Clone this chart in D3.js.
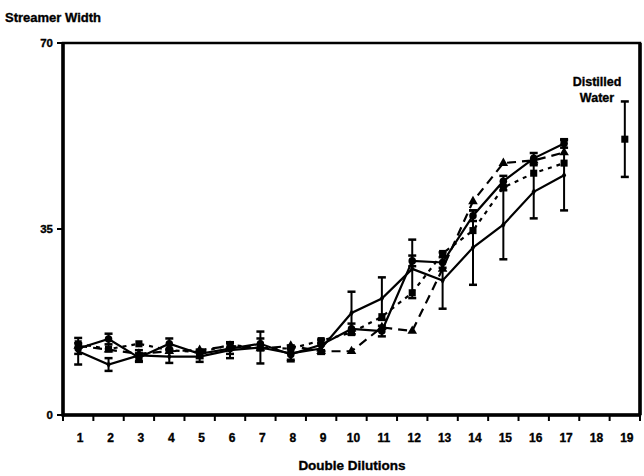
<!DOCTYPE html>
<html>
<head>
<meta charset="utf-8">
<script src="https://cdn.jsdelivr.net/npm/d3@7"></script>
<style>
  body { margin: 0; background: #fff; }
  text { font-family: "Liberation Sans", Arial, sans-serif; font-weight: bold; fill: #000; stroke: #000; stroke-width: 0.35px; }
</style>
</head>
<body>
<div id="chart"></div>
<script>
// data
var dilutions = [1, 2, 3, 4, 5, 6, 7, 8, 9, 10, 11, 12, 13, 14, 15, 16, 17];
var xTicks = [1, 2, 3, 4, 5, 6, 7, 8, 9, 10, 11, 12, 13, 14, 15, 16, 17, 18, 19];
var yTicks = [0, 35, 70];

var circles = [12.5, 14.3, 10.8, 13.4, 11.5, 12.5, 13.4, 11.4, 13.2, 16.2, 15.8, 29.0, 28.7, 37.5, 44.0, 48.3, 51.1];
var circlesErr = [1, 1, 0.8, 1, 0.8, 1, 1, 1, 1, 1, 1, 1, 1, 1, 1, 1, 0.8];
var ticksSeries = [12.0, 9.5, 11.2, 11.0, 11.0, 12.2, 12.7, 11.6, 12.5, 19.2, 21.9, 27.5, 25.3, 31.5, 35.8, 42.0, 45.1];
var ticksErr = [2.5, 1.2, 1.0, 1.2, 1.0, 1.5, 3.0, 1.5, 1.0, 4.0, 4.0, 5.5, 5.3, 7.0, 6.5, 5.0, 6.6];
var triangles = [13.0, 12.3, 11.5, 12.0, 12.2, 13.0, 12.5, 13.0, 12.0, 12.0, 16.5, 15.8, 27.5, 40.2, 47.4, 47.9, 49.4];
var squares = [13.4, 12.4, 13.4, 12.2, 11.8, 13.2, 12.6, 12.5, 14.0, 15.5, 18.5, 23.0, 30.4, 34.7, 42.8, 45.5, 47.4];
var waterX = 19, waterVal = 51.9, waterErr = 7.1;

var W = 644, H = 476;
var margin = {top: 43, right: 4, bottom: 61, left: 63};

var svg = d3.select("#chart").append("svg")
  .attr("width", W).attr("height", H);

var x = d3.scaleBand().domain(xTicks).range([margin.left, W - margin.right]);
var y = d3.scaleLinear().domain([0, 70]).range([H - margin.bottom, margin.top]);
var cx = function (d) { return x(d) + x.bandwidth() / 2; };

// frame: heavier left and bottom axes
svg.append("rect")
  .attr("x", margin.left).attr("y", margin.top)
  .attr("width", W - margin.right - margin.left)
  .attr("height", y(0) - margin.top)
  .attr("fill", "none").attr("stroke", "#000").attr("stroke-width", 2.5);
svg.append("line").attr("x1", margin.left).attr("x2", margin.left)
  .attr("y1", margin.top).attr("y2", y(0) + 1.5).attr("stroke", "#000").attr("stroke-width", 3.5);
svg.append("line").attr("x1", margin.left).attr("x2", W - margin.right)
  .attr("y1", y(0)).attr("y2", y(0)).attr("stroke", "#000").attr("stroke-width", 3.5);
svg.append("line").attr("x1", W - margin.right).attr("x2", W - margin.right)
  .attr("y1", margin.top).attr("y2", y(0)).attr("stroke", "#000").attr("stroke-width", 3.5);

// y axis
svg.selectAll(".ytick").data(yTicks).enter().append("line")
  .attr("x1", margin.left - 6).attr("x2", margin.left)
  .attr("y1", function (d) { return y(d); }).attr("y2", function (d) { return y(d); })
  .attr("stroke", "#000").attr("stroke-width", 2);
svg.selectAll(".ylab").data(yTicks).enter().append("text")
  .attr("x", margin.left - 10).attr("y", function (d) { return y(d) + 4; })
  .attr("text-anchor", "end").attr("font-size", 11.5)
  .text(function (d) { return d; });

// x axis: ticks on band edges, labels at band centres
var edges = xTicks.map(function (d) { return x(d); }).concat([W - margin.right]);
svg.selectAll(".xtick").data(edges).enter().append("line")
  .attr("x1", function (d) { return d; }).attr("x2", function (d) { return d; })
  .attr("y1", y(0)).attr("y2", y(0) + 6)
  .attr("stroke", "#000").attr("stroke-width", 2);
svg.selectAll(".xlab").data(xTicks).enter().append("text")
  .attr("x", function (d) { return cx(d) + 2; }).attr("y", y(0) + 27)
  .attr("text-anchor", "middle").attr("font-size", 12)
  .text(function (d) { return d; });

svg.append("text").attr("x", 5).attr("y", 22).attr("font-size", 13).text("Streamer Width");
svg.append("text").attr("x", 352).attr("y", 470).attr("text-anchor", "middle").attr("font-size", 13.5).text("Double Dilutions");
svg.append("text").attr("x", 597).attr("y", 86).attr("text-anchor", "middle").attr("font-size", 12.5).text("Distilled");
svg.append("text").attr("x", 597).attr("y", 102).attr("text-anchor", "middle").attr("font-size", 12.5).text("Water");

var line = d3.line().x(function (d) { return cx(d[0]); }).y(function (d) { return y(d[1]); });

function errorBars(vals, errs) {
  var g = svg.append("g").attr("stroke", "#000");
  vals.forEach(function (v, i) {
    var px = cx(dilutions[i]);
    g.append("line").attr("x1", px).attr("x2", px)
      .attr("y1", y(v - errs[i])).attr("y2", y(v + errs[i])).attr("stroke-width", 2);
    [v - errs[i], v + errs[i]].forEach(function (e) {
      g.append("line").attr("x1", px - 4).attr("x2", px + 4)
        .attr("y1", y(e)).attr("y2", y(e)).attr("stroke-width", 2.5);
    });
  });
}

function series(vals, dash) {
  svg.append("path")
    .datum(vals.map(function (v, i) { return [dilutions[i], v]; }))
    .attr("d", line).attr("fill", "none").attr("stroke", "#000")
    .attr("stroke-width", 2.2).attr("stroke-dasharray", dash);
}

errorBars(ticksSeries, ticksErr);
errorBars(circles, circlesErr);

series(circles, null);
series(ticksSeries, null);
series(triangles, "9,6");
series(squares, "4,5");

var sym = function (type, size) { return d3.symbol().type(type).size(size); };
function markers(vals, path) {
  svg.selectAll(null).data(vals).enter().append("path")
    .attr("d", path)
    .attr("transform", function (d, i) { return "translate(" + cx(dilutions[i]) + "," + y(d) + ")"; })
    .attr("fill", "#000");
}
markers(circles, sym(d3.symbolCircle, 45)());
markers(ticksSeries, sym(d3.symbolDiamond, 16)());
markers(triangles, sym(d3.symbolTriangle, 40)());
markers(squares, sym(d3.symbolSquare, 50)());

// distilled water
var wx = cx(waterX);
svg.append("line").attr("x1", wx).attr("x2", wx)
  .attr("y1", y(waterVal - waterErr)).attr("y2", y(waterVal + waterErr))
  .attr("stroke", "#000").attr("stroke-width", 2);
[waterVal - waterErr, waterVal + waterErr].forEach(function (e) {
  svg.append("line").attr("x1", wx - 4).attr("x2", wx + 4)
    .attr("y1", y(e)).attr("y2", y(e)).attr("stroke", "#000").attr("stroke-width", 2.5);
});
svg.append("path").attr("d", sym(d3.symbolSquare, 50)())
  .attr("transform", "translate(" + wx + "," + y(waterVal) + ")");
</script>
</body>
</html>
